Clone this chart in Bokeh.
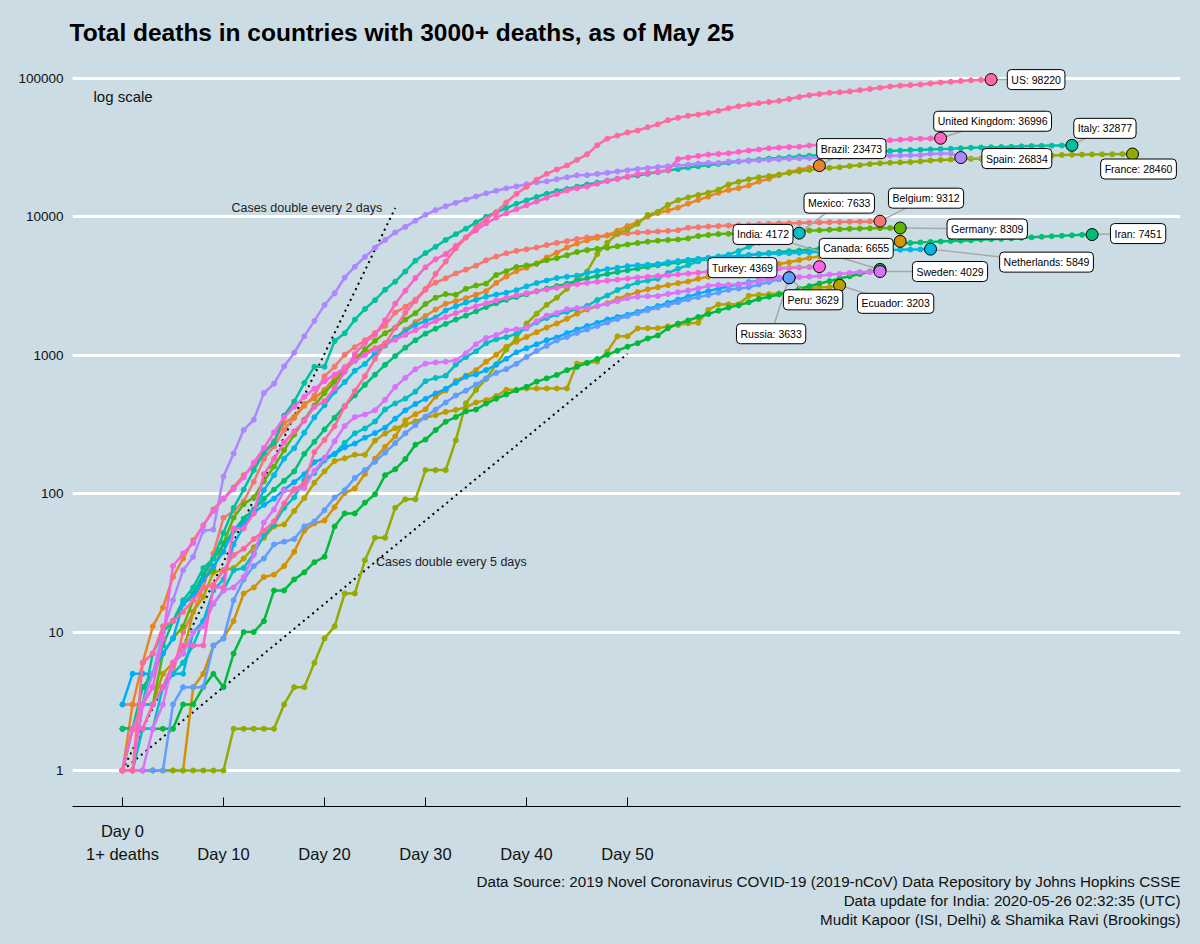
import math
from bokeh.plotting import figure
from bokeh.models import Range1d, FixedTicker, PrintfTickFormatter, Label, ColumnDataSource, Title
from bokeh.embed import file_html
from bokeh.resources import INLINE
from bokeh.core.properties import value

# ---------------- data: cumulative deaths, day 0 = first day with 1+ deaths ----------------
belgium = [3, 3, 3, 4, 4, 5, 10, 14, 21, 37, 67, 75, 88, 122, 178, 220, 289, 353, 431, 513, 705,
           828, 1011, 1143, 1283, 1447, 1632, 2035, 2240, 2523, 3019, 3346, 3600, 3903, 4157, 4440,
           4857, 5163, 5453, 5683, 5828, 5998, 6262, 6490, 6679, 6917, 7094, 7207, 7331, 7501, 7594,
           7703, 7765, 7844, 7924, 8016, 8339, 8415, 8521, 8581, 8656, 8707, 8761, 8843, 8903, 8959,
           9005, 9052, 9080, 9108, 9150, 9186, 9212, 9237, 9280, 9312]
brazil = [1, 3, 6, 11, 15, 25, 34, 46, 59, 77, 92, 111, 136, 159, 201,
          240, 324, 359, 445, 486, 564, 686, 819, 950, 1057, 1124, 1223, 1328, 1532, 1736,
          1924, 2141, 2354, 2462, 2587, 2741, 2906, 3331, 3704, 4057, 4286, 4603, 5083, 5513, 6006,
          6412, 6761, 7051, 7367, 7938, 8588, 9190, 10017, 10656, 11123, 11653, 12461, 13240, 13999,
          14962, 15662, 16118, 16853, 17983, 18859, 20047, 21048, 22013, 22666, 23473]
canada = [1, 1, 1, 1, 1, 1, 1, 4, 5, 8, 9, 12, 19, 21, 25, 26, 30, 38, 54, 61, 64, 80, 101,
          109, 139, 179, 218, 259, 339, 375, 407, 503, 557, 653, 714, 781, 898, 1010,
          1153, 1250, 1356, 1470, 1584, 1697, 1834, 1999, 2141, 2265, 2375, 2560, 2707, 2859, 2996,
          3104, 3213, 3322, 3408, 3569, 3701, 3836, 3963, 4044, 4167, 4232, 4400, 4569, 4697, 4883,
          5056, 5179, 5304, 5472, 5576, 5710, 5842, 6028, 6295, 6655]
ecuador = [2, 2, 2, 3, 5, 6, 7, 14, 18, 27, 28, 29, 34, 41, 48, 58, 60, 75,
           93, 120, 145, 172, 180, 191, 191, 242, 272, 297, 315, 333, 355, 369, 390, 403, 421, 456,
           474, 507, 563, 563, 576, 576, 576, 576, 576, 871, 883, 900,
           1063, 1371, 1371, 1564, 1569, 1569, 1618, 1654, 1704, 1717, 2127, 2327, 2334, 2338, 2688,
           2736, 2758, 2799, 2839, 2888, 3056, 3096, 3108, 3203]
france = [1, 1, 1, 1, 1, 1, 1, 1, 1, 1, 1, 2, 2, 2, 2, 2,
          3, 4, 4, 6, 9, 11, 19, 19, 33, 48, 48, 79, 91, 91, 148, 148, 148, 243, 450, 562, 674, 860,
          1100, 1331, 1696, 1995, 2314, 2606, 3024, 3523,
          4032, 5387, 6507, 7560, 8078, 8911, 10328, 10869, 12210, 13197, 13832, 14393, 14967, 15729,
          17167, 17920, 18681, 19323, 19718, 20265, 20796, 21340, 21856, 22245, 22614, 22856, 23293,
          23660, 24087, 24376,
          24594, 24760, 24895, 25204, 25537, 25809, 25987, 26230, 26310, 26380, 26643, 26991, 27074,
          27425, 27529, 27625, 27729, 28022, 28132, 28215, 28289, 28332, 28370, 28432, 28460]
germany = [2, 2, 3, 3, 7, 9, 11, 17, 24, 28, 44, 67, 84, 94, 123, 157, 206, 267, 342, 433, 533, 645, 775,
           920, 1107, 1275, 1444, 1584, 1810, 2016, 2349, 2607, 2767, 2736, 3022, 3194, 3294, 3804,
           4052, 4352, 4459, 4586, 4862, 5033, 5279, 5575, 5760, 5877, 5976, 6126, 6314, 6467, 6623,
           6736, 6812, 6866, 6993, 7275, 7392, 7510, 7549, 7569, 7661, 7738, 7861, 7884, 7897, 7938,
           7962, 8003, 8081, 8144, 8203, 8228, 8261, 8283, 8302, 8309]
india = [2, 2, 2, 2, 2, 2, 3, 3, 4, 5, 4, 7, 10, 10, 12, 20, 20, 24, 27, 32, 35,
         58, 72, 72, 86, 99, 136, 150, 178, 226, 246, 288, 331, 358, 393, 405, 448, 486, 521, 559, 592,
         645, 681, 721, 780, 825, 881, 939, 1008, 1079, 1154, 1223, 1323, 1391, 1566, 1694,
         1785, 1889, 1985, 2101, 2212, 2294, 2415, 2551, 2649, 2753, 2871, 3025, 3156, 3302, 3434,
         3584, 3726, 3868, 4024, 4172]
iran = [2, 2, 4, 5, 8, 12, 16, 19, 26, 34, 43,
        54, 66, 77, 92, 107, 124, 145, 194, 237, 291, 354, 429, 514, 611, 724, 853, 988, 1135, 1284,
        1433, 1556, 1685, 1812, 1934, 2077, 2234, 2378, 2517, 2640, 2757, 2898,
        3036, 3160, 3294, 3452, 3603, 3739, 3872, 3993, 4110, 4232, 4357, 4474, 4585, 4683, 4777,
        4869, 4958, 5031, 5118, 5209, 5297, 5391, 5481, 5574, 5650, 5710, 5806, 5877, 5957, 6028,
        6091, 6156, 6203, 6277, 6340, 6418, 6486, 6541, 6589, 6640, 6685, 6733, 6783, 6854, 6902,
        6937, 6988, 7057, 7119, 7183, 7249, 7300, 7359, 7417, 7451]
italy = [1, 2, 3, 7, 10, 12, 17, 21, 29,
         34, 52, 79, 107, 148, 197, 233, 366, 463, 631, 827, 827, 1266, 1441, 1809, 2158, 2503, 2978,
         3405, 4032, 4825, 5476, 6077, 6820, 7503, 8215, 9134, 10023, 10779, 11591, 12428,
         13155, 13915, 14681, 15362, 15887, 16523, 17127, 17669, 18279, 18849, 19468, 19899, 20465,
         21067, 21645, 22170, 22745, 23227, 23660, 24114, 24648, 25085, 25549, 25969, 26384, 26644,
         26977, 27359, 27682, 27967,
         28236, 28710, 28884, 29079, 29315, 29684, 29958, 30201, 30395, 30560, 30739, 30911, 31106,
         31368, 31610, 31763, 31908, 32007, 32169, 32330, 32486, 32616, 32735, 32785, 32877]
mexico = [1, 1, 2, 2, 4, 5, 6, 8, 12, 16, 20, 28, 29,
          37, 50, 60, 79, 94, 125, 141, 174, 194, 233, 273, 296, 332, 406, 449, 486, 546, 650, 686,
          712, 857, 970, 1069, 1221, 1305, 1351, 1434, 1569, 1732, 1859,
          1972, 2061, 2154, 2271, 2507, 2704, 2961, 3160, 3353, 3465, 3573, 3926, 4220, 4477, 4767,
          5045, 5177, 5332, 5666, 6090, 6510, 6989, 7179, 7394, 7633]
netherlands = [1, 1, 3, 3, 4, 5, 5, 10, 12, 20, 24, 43, 58, 76, 106, 136, 179, 213, 276, 356, 435,
               546, 640, 772, 865, 1040,
               1175, 1341, 1490, 1656, 1771, 1874, 2108, 2255, 2403, 2520, 2653, 2747, 2833, 2955,
               3145, 3327, 3471, 3613, 3697, 3764, 3929, 4068, 4191, 4293, 4409, 4475, 4518, 4566,
               4711, 4795,
               4893, 4987, 5056, 5082, 5168, 5204, 5288, 5359, 5422, 5440, 5456, 5510, 5562, 5590,
               5643, 5670, 5680, 5694, 5715, 5748, 5775, 5788, 5811, 5822, 5849]
peru = [3, 5, 5, 5, 7, 9, 16, 18, 24, 30, 38, 55,
        61, 73, 83, 92, 107, 121, 138, 169, 181, 193, 216, 230, 254, 274, 300, 348, 400, 445, 484,
        530, 572, 634, 700, 728, 782, 854, 943, 1051, 1124, 1200,
        1286, 1344, 1444, 1533, 1627, 1714, 1814, 1889, 1961, 2057, 2169, 2267, 2392, 2523, 2648,
        2789, 2914, 3024, 3148, 3244, 3373, 3456, 3534, 3580, 3629]
russia = [1, 1, 1, 1, 1, 3, 4, 4, 4, 8, 9, 17,
          24, 30, 34, 43, 45, 47, 58, 63, 76, 94, 106, 130, 148, 170, 198, 232, 273, 313, 361, 405,
          456, 513, 555, 615, 681, 747, 794, 867, 972, 1073,
          1169, 1280, 1356, 1451, 1537, 1625, 1723, 1827, 1915, 2009, 2116, 2212, 2305, 2418, 2537,
          2631, 2722, 2837, 2972, 3035, 3099, 3249, 3388, 3541, 3633]
spain = [1, 2, 3, 5, 10, 17, 28, 35, 54, 55, 133, 195, 289, 342, 533, 623, 830, 1043, 1375, 1772,
         2311, 2808, 3647, 4365, 5138, 5982, 6803, 7716, 8464,
         9387, 10348, 11198, 11947, 12641, 13341, 14045, 14792, 15447, 16081, 16606, 17209, 17756,
         18056, 18708, 19315, 20002, 20043, 20453, 20852, 21282, 21717, 22157, 22524, 22902, 23190,
         23521, 23822, 24275, 24543,
         24543, 25100, 25264, 25428, 25613, 25857, 26070, 26299, 26478, 26621, 26744, 26920, 27104,
         27321, 27459, 27563, 27650, 27709, 27778, 27888, 27940, 28628, 28678, 28752, 26834]
sweden = [1, 1, 1, 2, 3, 6, 7, 10, 11, 16, 20, 21, 25, 36, 62, 77, 105, 105, 110, 146, 180,
          239, 308, 358, 373, 401, 477, 591, 687, 793, 870, 887, 899, 919, 1033, 1203, 1333, 1400,
          1511, 1540, 1580, 1765, 1937, 2021, 2152, 2192, 2194, 2274, 2355, 2462, 2586,
          2653, 2669, 2679, 2769, 2854, 2941, 3040, 3175, 3220, 3225, 3256, 3313, 3460, 3529, 3646,
          3674, 3679, 3698, 3743, 3831, 3871, 3925, 3992, 3998, 4029]
turkey = [1, 1, 3, 4, 9, 30, 37, 44, 59, 75, 92, 108, 131, 168, 214,
          277, 356, 425, 501, 574, 649, 725, 812, 908, 1006, 1101, 1198, 1296, 1403, 1518, 1643, 1769,
          1890, 2017, 2140, 2259, 2376, 2491, 2600, 2706, 2805, 2900, 2992, 3081, 3174,
          3258, 3336, 3397, 3461, 3520, 3584, 3641, 3689, 3739, 3786, 3841, 3894, 3952, 4007, 4055,
          4096, 4140, 4171, 4199, 4222, 4249, 4276, 4308, 4340, 4369]
united_kingdom = [1, 2, 2, 3, 4, 6, 8, 8, 8, 21, 21, 56, 56, 72, 138, 178, 234, 282, 336, 423, 466,
                  580, 761, 1021, 1231, 1411, 1793,
                  2357, 2926, 3611, 4320, 4943, 5385, 6171, 7111, 7993, 8974, 9892, 10629, 11347,
                  12129, 12894, 13759, 14607, 15498, 16095, 16550, 17378, 18151, 18791, 19567, 20381,
                  20794, 21157, 21787, 26166, 26842,
                  27583, 28205, 28520, 28809, 29501, 30150, 30689, 31316, 31662, 31930, 32141, 32769,
                  33264, 33693, 34078, 34546, 34716, 34876, 35422, 35786, 36124, 36475, 36757, 36875,
                  36996]
us = [1,
      1, 6, 7, 11, 12, 14, 17, 21, 22, 28, 36, 40, 47, 54, 63, 85, 108, 118, 200, 244, 307, 427, 552,
      706, 942, 1209, 1581, 2026, 2467, 2978, 3873,
      4757, 5926, 7087, 8407, 9619, 10783, 12722, 14695, 16478, 18586, 20463, 22020, 23529, 25831,
      28325, 32916, 36773, 38664, 40661, 42094, 44444, 46622, 49954, 51949, 53755, 54881, 56259,
      58355, 60967, 62996,
      64943, 66369, 67682, 68922, 71064, 73455, 75662, 77180, 78795, 79526, 80682, 82376, 84119,
      85898, 87530, 88754, 89562, 90347, 91921, 93439, 94702, 95979, 97048, 97720, 98220]

countries = ["Belgium", "Brazil", "Canada", "Ecuador", "France", "Germany", "India", "Iran",
             "Italy", "Mexico", "Netherlands", "Peru", "Russia", "Spain", "Sweden", "Turkey",
             "United Kingdom", "US"]
series = [belgium, brazil, canada, ecuador, france, germany, india, iran, italy, mexico,
          netherlands, peru, russia, spain, sweden, turkey, united_kingdom, us]

y_ticks = [1, 10, 100, 1000, 10000, 100000]
x_ticks = [0, 10, 20, 30, 40, 50]
x_tick_labels = ["Day 0\n1+ deaths", "\nDay 10", "\nDay 20", "\nDay 30", "\nDay 40", "\nDay 50"]

title_text = "Total deaths in countries with 3000+ deaths, as of May 25"
caption_lines = ["Data Source: 2019 Novel Coronavirus COVID-19 (2019-nCoV) Data Repository by Johns Hopkins CSSE",
                 "Data update for India: 2020-05-26 02:32:35 (UTC)",
                 "Mudit Kapoor (ISI, Delhi) & Shamika Ravi (Brookings)"]

# ---------------- layout / style ----------------
# label offsets from each end point, in screen pixels (dx right, dy up)
label_offsets = {
    "US": (45, 0), "United Kingdom": (52, 17), "Italy": (33, 17), "Brazil": (32, 17),
    "Spain": (56, -1), "France": (6, -15), "Mexico": (40, 30), "Belgium": (46, 23),
    "Germany": (87, -1), "Iran": (46, 1), "India": (-117, 35), "Canada": (-44, -7),
    "Netherlands": (116, -13), "Turkey": (-77, -1), "Sweden": (70, 0), "Peru": (24, -22),
    "Ecuador": (56, -18), "Russia": (-18, -56),
}

FONT = "Liberation Sans"
BG = "#CBDCE4"
FW, FH = 1108, 750
X0, X1 = -4.95, 104.75
Y0, Y1 = 0.549, 144200.0
PX_DAY = FW / (X1 - X0)
PX_DEC = FH / (math.log10(Y1) - math.log10(Y0))


def hue_color(h, c=100.0, l=65.0):
    hr = math.radians(h)
    U, V = c * math.cos(hr), c * math.sin(hr)
    Xn, Yn, Zn = 95.047, 100.0, 108.883
    Y = Yn * ((l + 16) / 116) ** 3
    t = Xn + 15 * Yn + 3 * Zn
    un, vn = 4 * Xn / t, 9 * Yn / t
    u = U / (13 * l) + un
    v = V / (13 * l) + vn
    X = 9.0 * Y * u / (4 * v)
    Z = -X / 3 - 5 * Y + 3 * Y / v
    x, y, z = X / 100, Y / 100, Z / 100
    rgb = [3.240479 * x - 1.537150 * y - 0.498535 * z,
           -0.969256 * x + 1.875992 * y + 0.041556 * z,
           0.055648 * x - 0.204043 * y + 1.057311 * z]
    out = []
    for ch in rgb:
        ch = 12.92 * ch if ch <= 0.0031308 else 1.055 * ch ** (1 / 2.4) - 0.055
        out.append(int(round(max(0.0, min(1.0, ch)) * 255)))
    return "#%02X%02X%02X" % tuple(out)


n = len(countries)
colors = [hue_color(15 + 360.0 * i / n) for i in range(n)]

p = figure(frame_width=FW, frame_height=FH, y_axis_type="log",
           x_range=Range1d(X0, X1), y_range=Range1d(Y0, Y1),
           output_backend="svg", toolbar_location=None,
           background_fill_color=BG, border_fill_color=BG,
           min_border_left=72, min_border_right=12, min_border_top=56, min_border_bottom=130)
p.outline_line_color = None

p.title.text = title_text
p.title.text_font = FONT
p.title.text_font_size = "24.5px"
p.title.text_font_style = "bold"
p.title.text_color = "black"
p.title.align = "left"
p.title.offset = -3
p.title.standoff = 21

p.xgrid.visible = False
p.ygrid.grid_line_color = "white"
p.ygrid.grid_line_width = 3

p.yaxis.ticker = FixedTicker(ticks=y_ticks)
p.yaxis.formatter = PrintfTickFormatter(format="%d")
p.yaxis.axis_line_color = None
p.yaxis.major_tick_line_color = None
p.yaxis.minor_tick_line_color = None
p.yaxis.major_tick_in = 0
p.yaxis.major_tick_out = 0
p.yaxis.major_label_standoff = 9
p.yaxis.major_label_text_font = FONT
p.yaxis.major_label_text_font_size = "13.5px"
p.yaxis.major_label_text_color = "#111111"

p.xaxis.ticker = FixedTicker(ticks=x_ticks)
p.xaxis.major_label_overrides = {t: s for t, s in zip(x_ticks, x_tick_labels)}
p.xaxis.axis_line_color = "black"
p.xaxis.axis_line_width = 1
p.xaxis.major_tick_line_color = "black"
p.xaxis.major_tick_in = 9
p.xaxis.major_tick_out = 0
p.xaxis.minor_tick_line_color = None
p.xaxis.major_label_standoff = 15
p.xaxis.major_label_text_font = FONT
p.xaxis.major_label_text_font_size = "16.5px"
p.xaxis.major_label_text_color = "#111111"
p.xaxis.major_label_text_line_height = 1.3

# doubling reference lines (straight on log scale: two end points)
p.line([0, 27], [1, 2 ** 13.5], line_color="black", line_width=2, line_dash="2 4")
p.line([0, 50], [1, 2 ** 10], line_color="black", line_width=2, line_dash="2 4")
p.text(x=[27], y=[2 ** 13.5], text=["Cases double every 2 days"], x_offset=-13,
       text_align="right", text_baseline="middle", text_font=value(FONT),
       text_font_size="12.5px", text_color="#222222")
p.text(x=[25], y=[2 ** 5], text=["Cases double every 5 days"], x_offset=1,
       text_align="left", text_baseline="middle", text_font=value(FONT),
       text_font_size="12.5px", text_color="#222222")

# country lines
for name, vals, col in zip(countries, series, colors):
    src = ColumnDataSource(dict(day=list(range(len(vals))), deaths=vals))
    p.line("day", "deaths", source=src, line_color=col, line_width=2.5)
    p.scatter("day", "deaths", source=src, size=5, fill_color=col, line_color=col)

# leader lines and end labels
end_days = [len(v) - 1 for v in series]
end_vals = [v[-1] for v in series]
for name, d, v in zip(countries, end_days, end_vals):
    dx, dy = label_offsets[name]
    lx = d + dx / PX_DAY
    ly = v * 10 ** (dy / PX_DEC)
    p.segment(x0=[d], y0=[v], x1=[lx], y1=[ly], line_color="#A8A8A8", line_width=1.5)

p.scatter(end_days, end_vals, size=12, fill_color=colors, line_color="black", line_width=1)

for name, d, v in zip(countries, end_days, end_vals):
    dx, dy = label_offsets[name]
    p.add_layout(Label(x=d, y=v, x_offset=dx, y_offset=dy, text=f"{name}: {v}",
                       text_align="center", text_baseline="middle",
                       text_font=FONT, text_font_size="10.5px", text_color="black",
                       background_fill_color="white", border_line_color="black",
                       border_line_width=1, padding=4, border_radius=4))

p.add_layout(Label(x=21, y=FH - 40, x_units="screen", y_units="screen", text="log scale",
                   text_font=FONT, text_font_size="15px", text_color="#111111",
                   text_baseline="middle", text_align="left"))

# caption: a thin spacer, then three right-aligned lines
p.add_layout(Title(text=" ", text_font_size="1px", standoff=2), "below")
for line in caption_lines:
    p.add_layout(Title(text=line, align="right", text_font=FONT,
                       text_font_size="15.2px", text_font_style="normal", text_color="#111111",
                       text_line_height=0.93, standoff=0, offset=0), "below")

html = file_html(p, INLINE)
html = html.replace("<head>", "<head><style>html, body {background: %s;}</style>" % BG, 1)
open("out.html", "w").write(html)
